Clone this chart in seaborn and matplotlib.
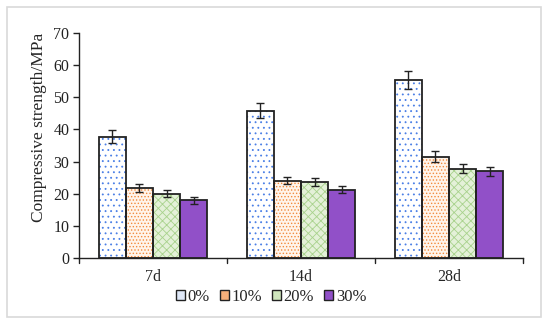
import matplotlib
matplotlib.use("Agg")
import matplotlib.pyplot as plt
import seaborn as sns
import pandas as pd
import numpy as np
from matplotlib.patches import Rectangle, Patch

ages = ["7d", "14d", "28d"]
contents = ["0%", "10%", "20%", "30%"]
values_0 = [37.7, 45.8, 55.5]
values_10 = [21.8, 24.1, 31.5]
values_20 = [20.0, 23.6, 27.7]
values_30 = [18.0, 21.3, 27.0]
err_0 = [2.0, 2.3, 2.8]
err_10 = [1.2, 1.2, 1.7]
err_20 = [1.1, 1.2, 1.4]
err_30 = [1.1, 1.2, 1.45]

vals = {"0%": values_0, "10%": values_10, "20%": values_20, "30%": values_30}
errs = {"0%": err_0, "10%": err_10, "20%": err_20, "30%": err_30}
rows = []
for c in contents:
    for i, a in enumerate(ages):
        rows.append({"age": a, "content": c, "value": vals[c][i], "err": errs[c][i]})
df = pd.DataFrame(rows)

sns.set_style("white")
plt.rcParams['font.family'] = ['Liberation Serif', 'DejaVu Serif']
plt.rcParams['hatch.linewidth'] = 0.6

fig = plt.figure(figsize=(5.5, 3.26), dpi=100)
ax = fig.add_axes([79/550, 1-258/326, (523-79)/550, (258-33)/326])

styles = {
    "0%": dict(face="white", hcol="#4a7fe6", hatch="..."),
    "10%": dict(face="#fff4ea", hcol="#f28a3c", hatch="....."),
    "20%": dict(face="#e4f1d8", hcol="#a8d28c", hatch="xxxx"),
    "30%": dict(face="#9150c8", hcol="#9150c8", hatch=None),
}

sns.barplot(data=df, x="age", y="value", hue="content", order=ages, hue_order=contents,
            width=0.73, errorbar=None, ax=ax, legend=False, gap=0)

for ci, c in enumerate(contents):
    cont = ax.containers[ci]
    st = styles[c]
    for ai, bar in enumerate(cont):
        bar.set_facecolor(st["face"])
        bar.set_edgecolor(st["hcol"])
        bar.set_linewidth(0)
        if st["hatch"]:
            bar.set_hatch(st["hatch"])
        x0, w, h = bar.get_x(), bar.get_width(), bar.get_height()
        ax.add_patch(Rectangle((x0, 0), w, h, fill=False, edgecolor="#222222", lw=1.3, zorder=3))
        ax.errorbar(x0 + w/2, h, yerr=errs[c][ai], fmt="none", ecolor="#222222",
                    elinewidth=1.0, capsize=3, capthick=1.0, zorder=4)

ax.set_ylim(0, 70)
ax.set_xlim(-0.5, 2.5)
ax.set_yticks(range(0, 71, 10))
ax.tick_params(axis="y", labelsize=11.5, length=4, width=1, direction="out", left=True, pad=3, colors="#222222")
ax.set_xticks([0, 1, 2])
ax.set_xticklabels(ages, fontsize=11.5)
ax.tick_params(axis="x", length=0, pad=8)
for xb in [-0.5, 0.5, 1.5, 2.5]:
    ax.plot([xb, xb], [0, -1.6], color="#222222", lw=1, clip_on=False)
ax.set_xlabel("")
ax.set_ylabel("Compressive strength/MPa", fontsize=12.5)
ax.yaxis.set_label_coords(-0.072, 0.58)
for s in ["top", "right"]:
    ax.spines[s].set_visible(False)
for s in ["left", "bottom"]:
    ax.spines[s].set_color("#222222")
    ax.spines[s].set_linewidth(1)

leg_faces = ["#dfe8f8", "#f7b07a", "#cfe6bd", "#9150c8"]
handles = [Patch(facecolor=f, edgecolor="#222222", lw=1, label=c) for f, c in zip(leg_faces, contents)]
leg = fig.legend(handles=handles, loc="center", bbox_to_anchor=(271/550, 1-297/326), ncol=4,
                 frameon=False, fontsize=12, handlelength=0.55, handleheight=0.55,
                 handletextpad=0.15, columnspacing=0.6)

fig.patches.append(Rectangle((7/550, 1-317/326), (541-7)/550, (317-7)/326, transform=fig.transFigure,
                             fill=False, edgecolor="#d9d9d9", lw=1.2))

fig.savefig("out.png", dpi=100)
